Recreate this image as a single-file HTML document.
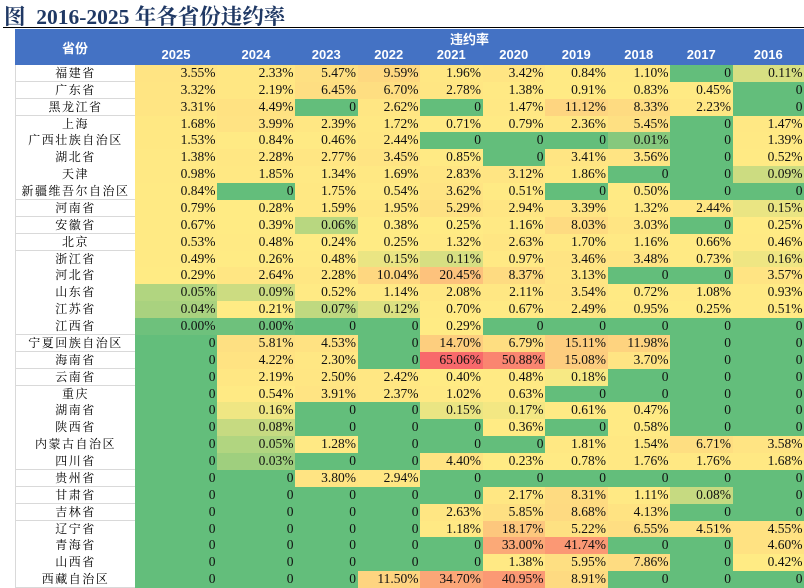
<!DOCTYPE html>
<html><head><meta charset="utf-8">
<style>
body{margin:0;width:804px;height:588px;overflow:hidden;background:#fff;position:relative;font-family:"Liberation Serif","Noto Serif CJK SC",serif;}
#title{position:absolute;left:4px;top:0px;font-size:21.5px;font-weight:bold;color:#1F3864;font-family:"Liberation Serif","Noto Serif CJK SC",serif;white-space:nowrap;}
#rule{position:absolute;left:3px;top:27px;width:801px;height:1px;background:#000;}
#hdr{position:absolute;left:15px;top:29px;width:789px;height:36px;background:#4472C4;}
.h{position:absolute;color:#fff;font-weight:bold;font-size:13px;font-family:"Liberation Sans","Noto Sans CJK SC",sans-serif;text-align:center;}
.c{position:absolute;font-size:13.5px;text-align:right;box-sizing:border-box;padding-right:2px;color:#111;line-height:17px;}
.p{position:absolute;font-size:12px;text-align:center;box-sizing:border-box;border-bottom:1px solid #d9d9d9;border-left:1px solid #d9d9d9;line-height:16px;background:#fff;font-family:"Liberation Serif","Noto Serif CJK SC",serif;letter-spacing:1.5px;white-space:nowrap;overflow:hidden;}
</style></head><body>
<div id="title">图&nbsp; 2016-2025 年各省份违约率</div>
<div id="rule"></div>
<div id="hdr"></div>
<div id="grid"></div>
<script>
const years=["2025","2024","2023","2022","2021","2020","2019","2018","2017","2016"];
const provinces=["福建省","广东省","黑龙江省","上海","广西壮族自治区","湖北省","天津","新疆维吾尔自治区","河南省","安徽省","北京","浙江省","河北省","山东省","江苏省","江西省","宁夏回族自治区","海南省","云南省","重庆","湖南省","陕西省","内蒙古自治区","四川省","贵州省","甘肃省","吉林省","辽宁省","青海省","山西省","西藏自治区"];
const rates=[
[3.55,2.33,5.47,9.59,1.96,3.42,0.84,1.10,0,0.11],
[3.32,2.19,6.45,6.70,2.78,1.38,0.91,0.83,0.45,0],
[3.31,4.49,0,2.62,0,1.47,11.12,8.33,2.23,0],
[1.68,3.99,2.39,1.72,0.71,0.79,2.36,5.45,0,1.47],
[1.53,0.84,0.46,2.44,0,0,0,0.01,0,1.39],
[1.38,2.28,2.77,3.45,0.85,0,3.41,3.56,0,0.52],
[0.98,1.85,1.34,1.69,2.83,3.12,1.86,0,0,0.09],
[0.84,0,1.75,0.54,3.62,0.51,0,0.50,0,0],
[0.79,0.28,1.59,1.95,5.29,2.94,3.39,1.32,2.44,0.15],
[0.67,0.39,0.06,0.38,0.25,1.16,8.03,3.03,0,0.25],
[0.53,0.48,0.24,0.25,1.32,2.63,1.70,1.16,0.66,0.46],
[0.49,0.26,0.48,0.15,0.11,0.97,3.46,3.48,0.73,0.16],
[0.29,2.64,2.28,10.04,20.45,8.37,3.13,0,0,3.57],
[0.05,0.09,0.52,1.14,2.08,2.11,3.54,0.72,1.08,0.93],
[0.04,0.21,0.07,0.12,0.70,0.67,2.49,0.95,0.25,0.51],
[0.001,0.001,0,0,0.29,0,0,0,0,0],
[0,5.81,4.53,0,14.70,6.79,15.11,11.98,0,0],
[0,4.22,2.30,0,65.06,50.88,15.08,3.70,0,0],
[0,2.19,2.50,2.42,0.40,0.48,0.18,0,0,0],
[0,0.54,3.91,2.37,1.02,0.63,0,0,0,0],
[0,0.16,0,0,0.15,0.17,0.61,0.47,0,0],
[0,0.08,0,0,0,0.36,0,0.58,0,0],
[0,0.05,1.28,0,0,0,1.81,1.54,6.71,3.58],
[0,0.03,0,0,4.40,0.23,0.78,1.76,1.76,1.68],
[0,0,3.80,2.94,0,0,0,0,0,0],
[0,0,0,0,0,2.17,8.31,1.11,0.08,0],
[0,0,0,0,2.63,5.85,8.68,4.13,0,0],
[0,0,0,0,1.18,18.17,5.22,6.55,4.51,4.55],
[0,0,0,0,0,33.00,41.74,0,0,4.60],
[0,0,0,0,0,1.38,5.95,7.86,0,0.42],
[0,0,0,11.50,34.70,40.95,8.91,0,0,0]
];
const colX=[135,217,295,357.5,420,482.5,545,607.5,670,732.5,804];
const top0=65, rowH=(588-65)/provinces.length;
const G=[99,190,123],Y=[255,235,132],R=[248,105,107];
const maxV=Math.max(...rates.flat()), midV=0.2;
function mix(a,b,t){return `rgb(${a.map((v,i)=>Math.round(v+(b[i]-v)*t)).join(',')})`;}
function color(v){if(v<=midV)return mix(G,Y,Math.sqrt(v/midV));return mix(Y,R,(v-midV)/(maxV-midV));}
const hdr=document.getElementById('hdr');
let e=document.createElement('div');e.className='h';


e.style.cssText='left:0;top:9px;width:120px;';e.textContent='省份';hdr.appendChild(e);
e=document.createElement('div');e.className='h';


e.style.cssText=`left:${colX[0]-15}px;top:0;width:${804-colX[0]}px;`;e.textContent='违约率';hdr.appendChild(e);
years.forEach((y,i)=>{const d=document.createElement('div');d.className='h';


d.style.cssText=`left:${colX[i]-15}px;top:18px;width:${colX[i+1]-colX[i]}px;`;d.textContent=y;hdr.appendChild(d);});
const grid=document.getElementById('grid');
provinces.forEach((p,r)=>{const y=top0+r*rowH;
const d=document.createElement('div');d.className='p';


d.style.cssText=`left:15px;top:${y}px;width:120px;height:${rowH+0.5}px;line-height:${rowH}px;`;d.textContent=p;grid.appendChild(d);
rates[r].forEach((v,c)=>{const x=colX[c];const cell=document.createElement('div');cell.className='c';


cell.style.cssText=`left:${x}px;top:${y}px;width:${colX[c+1]-x+0.5}px;height:${rowH+0.5}px;line-height:${rowH}px;background:${color(v)};`;
cell.textContent=v===0?'0':v.toFixed(2)+'%';grid.appendChild(cell);});});
</script>
</body></html>
